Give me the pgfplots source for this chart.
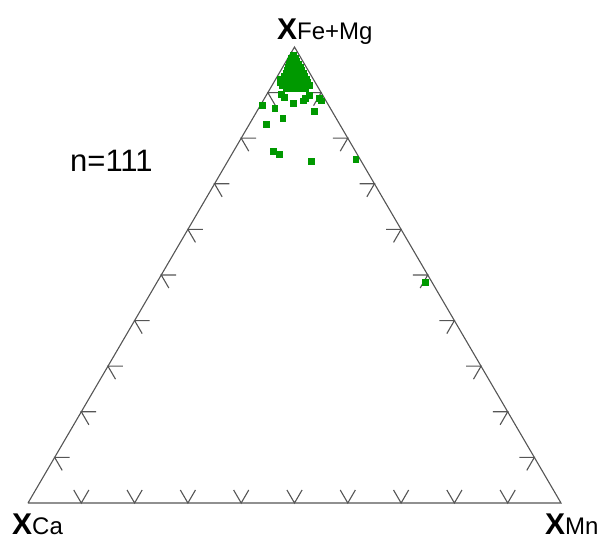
\documentclass[border=0pt]{standalone}
\usepackage{pgfplots}
\pgfplotsset{compat=1.18}
\usepackage{fontspec}
\setmainfont{Liberation Sans}
\definecolor{pt}{RGB}{0,153,0}
\definecolor{ln}{RGB}{85,85,85}
\begin{document}
\begin{tikzpicture}
\begin{axis}[
  x=533pt, y=456pt,
  xmin=-0.05253, xmax=1.07880, ymin=-0.08114, ymax=1.10307,
  hide axis, clip=false,
]
\path (rel axis cs:0,0) rectangle (rel axis cs:1,1);
% triangle
\addplot[ln, line width=1.1pt, mark=none] coordinates {(0,0) (1,0) (0.5,1) (0,0)};
% ticks
\pgfplotsinvokeforeach{1,...,9}{
  \addplot[ln, line width=1.1pt, mark=none] coordinates {(#1/10-0.0142,0.0285) (#1/10,0) (#1/10+0.0142,0.0285)};
  \addplot[ln, line width=1.1pt, mark=none] coordinates {(#1/20+0.028,#1/10) (#1/20,#1/10) (#1/20+0.0142,#1/10-0.0285)};
  \addplot[ln, line width=1.1pt, mark=none] coordinates {(1-#1/20-0.028,#1/10) (1-#1/20,#1/10) (1-#1/20-0.0142,#1/10-0.0285)};
}
% data
\addplot[only marks, mark=square*, mark size=2.9pt, color=pt] coordinates {
(0.4972,0.9825)
(0.4934,0.9759) (0.5009,0.9759)
(0.4916,0.9693) (0.4972,0.9693) (0.5028,0.9693)
(0.4897,0.9627) (0.4953,0.9627) (0.5009,0.9627) (0.5066,0.9627)
(0.4878,0.9561) (0.4934,0.9561) (0.4991,0.9561) (0.5047,0.9561) (0.5103,0.9561)
(0.4859,0.9496) (0.4916,0.9496) (0.4972,0.9496) (0.5028,0.9496) (0.5084,0.9496) (0.5122,0.9496)
(0.4841,0.9430) (0.4897,0.9430) (0.4953,0.9430) (0.5009,0.9430) (0.5066,0.9430) (0.5122,0.9430) (0.5159,0.9430)
(0.4803,0.9364) (0.4859,0.9364) (0.4916,0.9364) (0.4972,0.9364) (0.5028,0.9364) (0.5084,0.9364) (0.5141,0.9364) (0.5178,0.9364)
(0.4728,0.9298) (0.4784,0.9298) (0.4841,0.9298) (0.4897,0.9298) (0.4953,0.9298) (0.5009,0.9298) (0.5066,0.9298) (0.5122,0.9298) (0.5178,0.9298) (0.5216,0.9298)
(0.4728,0.9232) (0.4784,0.9232) (0.4841,0.9232) (0.4897,0.9232) (0.4953,0.9232) (0.5009,0.9232) (0.5066,0.9232) (0.5122,0.9232) (0.5178,0.9232) (0.5235,0.9232)
(0.4765,0.9167) (0.4822,0.9167) (0.4878,0.9167) (0.4934,0.9167) (0.4991,0.9167) (0.5047,0.9167) (0.5103,0.9167) (0.5159,0.9167) (0.5216,0.9167) (0.5272,0.9167)
(0.4841,0.9101) (0.4916,0.9101) (0.4991,0.9101) (0.5066,0.9101) (0.5141,0.9101) (0.5197,0.9101)
(0.439,0.873) (0.463,0.866) (0.478,0.844) (0.447,0.831) (0.460,0.772) (0.471,0.765)
(0.531,0.750) (0.615,0.754) (0.745,0.485) (0.537,0.860) (0.550,0.882) (0.497,0.877)
(0.475,0.897) (0.480,0.890) (0.520,0.888) (0.527,0.895) (0.516,0.882) (0.546,0.888)
};
% labels
\node[anchor=base west, inner sep=0pt] at (axis cs:0.0788,0.7259) {\fontsize{31}{31}\selectfont n=111};
\node[anchor=base west, inner sep=0pt] at (axis cs:0.467,1.0175) {\fontsize{30}{30}\selectfont\bfseries X\fontsize{24}{24}\selectfont\mdseries Fe+Mg};
\node[anchor=base west, inner sep=0pt] at (axis cs:-0.0300,-0.0680) {\fontsize{30}{30}\selectfont\bfseries X\fontsize{24}{24}\selectfont\mdseries Ca};
\node[anchor=base west, inner sep=0pt] at (axis cs:0.970,-0.0680) {\fontsize{30}{30}\selectfont\bfseries X\fontsize{24}{24}\selectfont\mdseries Mn};
\end{axis}
\end{tikzpicture}
\end{document}
